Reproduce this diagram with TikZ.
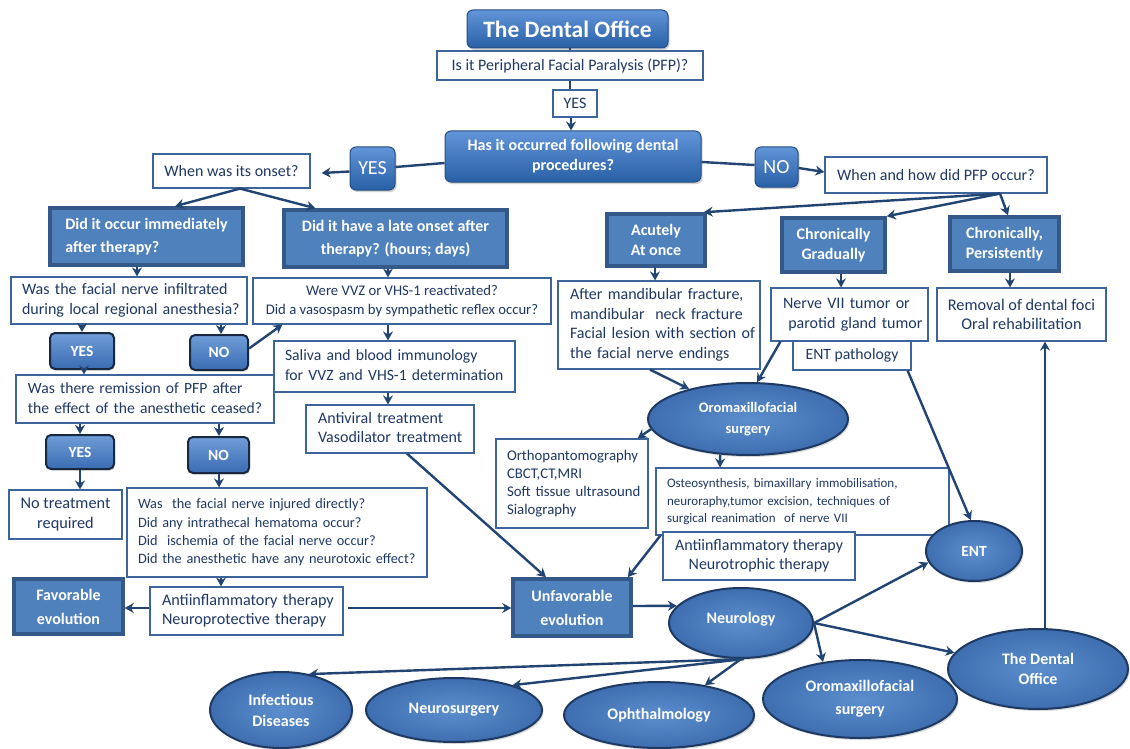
\documentclass[tikz,border=0pt]{standalone}
\usepackage{fontspec}
\setmainfont{Carlito}
\usetikzlibrary{shapes.geometric,arrows.meta,shadows}

\newcommand\fsz[2]{\fontsize{#1}{#2}\selectfont}
% left-aligned block of lines with a fixed left margin
\newcommand\leftlines[2]{\begin{tabular}{@{\hspace{#1}}l@{}}#2\end{tabular}}

\definecolor{navy}{RGB}{31,56,100}
\definecolor{wline}{RGB}{62,100,156}
\definecolor{sqfill}{RGB}{79,129,189}
\definecolor{sqline}{RGB}{52,88,135}
\definecolor{rtop}{RGB}{98,148,216}
\definecolor{rbot}{RGB}{40,96,166}
\definecolor{rline}{RGB}{38,78,130}
\definecolor{ptop}{RGB}{112,157,216}
\definecolor{pbot}{RGB}{58,108,178}
\definecolor{pline}{RGB}{25,40,65}
\definecolor{oin}{RGB}{92,142,206}
\definecolor{oout}{RGB}{62,110,175}
\definecolor{oline}{RGB}{30,58,98}
\definecolor{arrowc}{RGB}{34,68,115}

\tikzset{
  wbox/.style={draw=wline, line width=1.2pt, fill=white, text=navy,
    font=\fsz{16}{19}, inner xsep=8pt, inner ysep=0pt, align=center},
  lbox/.style={wbox, inner xsep=0pt, align=left},
  sqbox/.style={draw=sqline, line width=3.5pt, fill=sqfill, text=white,
    font=\bfseries\fsz{16}{23}, inner sep=0pt, align=center},
  rbox/.style={rounded corners=6pt, draw=rline, line width=1pt,
    top color=rtop, bottom color=rbot, text=white, inner sep=0pt,
    align=center,
    drop shadow={opacity=0.35, shadow xshift=1.5pt, shadow yshift=-2pt}},
  pill/.style={rounded corners=5pt, draw=pline, line width=2pt,
    top color=ptop, bottom color=pbot, text=white, inner sep=0pt,
    font=\bfseries\fsz{15.5}{16},
    drop shadow={opacity=0.3, shadow xshift=1pt, shadow yshift=-1.5pt}},
  oval/.style={ellipse, draw=oline, line width=2pt, inner color=oin,
    outer color=oout, text=white, inner sep=0pt, align=center,
    font=\bfseries\fsz{16}{21},
    drop shadow={opacity=0.3, shadow xshift=1.5pt, shadow yshift=-2pt}},
  link/.style={draw=arrowc, line width=2.4pt},
  arr/.style={link, -{Stealth[length=9pt,width=10pt,inset=3pt]}},
}

\begin{document}
\begin{tikzpicture}[x=1pt,y=-1pt]
\fill[white] (0,0) rectangle (1130,749);
\useasboundingbox (0,0) rectangle (1130,749);

% ---- top of the chart
\node[rbox, minimum width=201pt, minimum height=38pt, font=\bfseries\fsz{23.5}{26}] (title) at (567.5,29) {The Dental Office};
\node[wbox, minimum width=266pt, minimum height=29pt] (pfp) at (570,65.5) {Is it Peripheral Facial Paralysis (PFP)?};
\node[wbox, minimum width=44pt, minimum height=27pt] (yes1) at (575,103.5) {YES};
\node[rbox, minimum width=256pt, minimum height=51pt, font=\bfseries\fsz{16}{20}] (has) at (573,156.5) {Has it occurred following dental\\procedures?};
\node[rbox, minimum width=45pt, minimum height=43pt, font=\fsz{20}{24}] (yes2) at (372.5,168.5) {YES};
\node[rbox, minimum width=43pt, minimum height=40pt, font=\fsz{20}{24}] (no2) at (776.5,167) {NO};
\node[wbox, minimum width=157pt, minimum height=34pt] (onset) at (231.5,171) {When was its onset?};
\node[wbox, minimum width=222pt, minimum height=36pt] (how) at (936,175) {When and how did PFP occur?};

% ---- timing / course boxes
\node[sqbox, minimum width=193pt, minimum height=57pt, align=left] (immed) at (146.5,236.5) {Did it occur immediately\\after therapy?};
\node[sqbox, minimum width=223pt, minimum height=57pt] (late) at (395.5,238.5) {Did it have a late onset after\\therapy? (hours; days)};
\node[sqbox, minimum width=98pt, minimum height=52pt, font=\bfseries\fsz{16}{19.5}] (acute) at (656,240) {Acutely\\At once};
\node[sqbox, minimum width=103pt, minimum height=54pt, font=\bfseries\fsz{16}{19.5}] (grad) at (833.5,245) {Chronically\\Gradually};
\node[sqbox, minimum width=109pt, minimum height=54pt, font=\bfseries\fsz{16}{19.5}] (persist) at (1004.5,244) {Chronically,\\Persistently};

% ---- left branch
\node[lbox, text width=236pt, minimum height=47pt, font=\fsz{16}{20}] (infil) at (129,300.5) {\leftlines{11pt}{Was the facial nerve infiltrated\\during local regional anesthesia?}};
\node[pill, minimum width=64pt, minimum height=36pt] (yes3) at (82,351) {YES};
\node[pill, minimum width=58pt, minimum height=35pt] (no3) at (219,352.5) {NO};
\node[lbox, text width=258pt, minimum height=48pt, font=\fsz{15.6}{20}] (remission) at (145,399) {\leftlines{12pt}{Was there remission of PFP after\\the effect of the anesthetic ceased?}};
\node[pill, minimum width=68pt, minimum height=34pt] (yes4) at (80,452) {YES};
\node[pill, minimum width=61pt, minimum height=36pt] (no4) at (218.5,455) {NO};
\node[wbox, minimum width=113pt, minimum height=49pt, font=\fsz{16.3}{20}] (notreat) at (65.5,514.5) {No treatment\\required};
\node[lbox, text width=300pt, minimum height=89pt, font=\fsz{14.3}{18.3}] (injured) at (277,532.5) {\leftlines{11pt}{Was\ \ the facial nerve injured directly?\\Did any intrathecal hematoma occur?\\Did\ \ ischemia of the facial nerve occur?\\Did the anesthetic have any neurotoxic effect?}};
\node[sqbox, minimum width=109pt, minimum height=55pt, font=\bfseries\fsz{16}{24}] (favor) at (68.5,606.5) {Favorable\\evolution};
\node[lbox, text width=193pt, minimum height=48pt, font=\fsz{16.2}{19}] (neuroprot) at (246.5,611) {\leftlines{12pt}{Antiinflammatory therapy\\Neuroprotective therapy}};

% ---- late onset branch
\node[wbox, minimum width=298pt, minimum height=46pt, font=\fsz{14.7}{19}] (vvz) at (402,301) {Were VVZ or VHS-1 reactivated?\\Did a vasospasm by sympathetic reflex occur?};
\node[lbox, text width=241pt, minimum height=51pt, font=\fsz{15.7}{19.5}] (saliva) at (394.5,366.5) {\leftlines{11pt}{Saliva and blood immunology\\for VVZ and VHS-1 determination}};
\node[lbox, text width=168pt, minimum height=48pt, font=\fsz{16}{19}] (antiviral) at (390,429) {\leftlines{12pt}{Antiviral treatment\\Vasodilator treatment}};
\node[sqbox, minimum width=118pt, minimum height=57pt, font=\bfseries\fsz{16}{24}] (unfav) at (572,607.5) {Unfavorable\\evolution};

% ---- right branch
\node[lbox, text width=202pt, minimum height=88pt, font=\fsz{16}{19.7}] (mand) at (659,325) {\leftlines{12pt}{After mandibular fracture,\\mandibular\ \ neck fracture\\Facial lesion with section of\\the facial nerve endings}};
\node[lbox, text width=157pt, minimum height=53pt, font=\fsz{16}{19.5}] (tumor) at (849.5,314.5) {\leftlines{12pt}{Nerve VII tumor or\\\ parotid gland tumor}};
\node[wbox, minimum width=118pt, minimum height=29pt, font=\fsz{15.7}{19}] (entpath) at (852,355.5) {ENT pathology};
\node[wbox, minimum width=169pt, minimum height=53pt, font=\fsz{16.3}{19.5}] (removal) at (1021.5,314.5) {Removal of dental foci\\Oral rehabilitation};
\node[oval, minimum width=200pt, minimum height=72pt, font=\bfseries\fsz{14.5}{21}] (oromax1) at (748,419) {Oromaxillofacial\\surgery};
\node[lbox, text width=152pt, minimum height=89pt, font=\fsz{14.8}{18}] (ortho) at (572,483.5) {\leftlines{11pt}{Orthopantomography\\CBCT,CT,MRI\\Soft tissue ultrasound\\Sialography}};
\node[lbox, text width=293pt, minimum height=67pt, font=\fsz{13}{17.5}] (osteo) at (802.5,501.5) {\leftlines{11pt}{Osteosynthesis, bimaxillary immobilisation,\\neuroraphy,tumor excision, techniques of\\surgical reanimation\ \ of nerve VII}};
\node[wbox, minimum width=192pt, minimum height=48pt, font=\fsz{16}{19}] (neurotrophic) at (759,556) {Antiinflammatory therapy\\Neurotrophic therapy};
\node[oval, minimum width=96pt, minimum height=60pt, font=\bfseries\fsz{15.5}{21}] (ent) at (974,551) {ENT};

% ---- referrals
\node[oval, minimum width=144pt, minimum height=70pt] (neurology) at (741,623) {\smash{Neurology}};
\node[oval, minimum width=180pt, minimum height=80pt, font=\bfseries\fsz{16}{20}] (dental2) at (1038,669) {The Dental\\Office};
\node[oval, minimum width=142pt, minimum height=76pt] (infectious) at (281,710) {Infectious\\Diseases};
\node[oval, minimum width=176pt, minimum height=64pt] (neurosurgery) at (454,710) {Neurosurgery};
\node[oval, minimum width=190pt, minimum height=66pt] (ophthalmology) at (659,715) {Ophthalmology};
\node[oval, minimum width=194pt, minimum height=78pt, font=\bfseries\fsz{16}{23}] (oromax2) at (860,699) {Oromaxillofacial\\surgery};

% ---- connectors, top
\draw[link] ([xshift=2.5pt]title.south) -- (pfp.north);
\draw[link] (pfp.south) -- (pfp.south |- yes1.north);
\draw[arr] ([xshift=-4pt]yes1.south) -- ([xshift=-2pt]has.north);
\draw[link] ([yshift=-6.5pt]has.west) -- ([yshift=1.5pt]yes2.east);
\draw[arr] ([yshift=-3pt]yes2.west) -- ([xshift=11pt,yshift=-2pt]onset.east);
\draw[link] ([yshift=-5.5pt]has.east) -- ([yshift=2pt]no2.west);
\draw[arr] ([yshift=-1pt]no2.east) -- ([yshift=3pt]how.west);
\draw[arr] ([xshift=8.5pt]onset.south) -- ([xshift=28.5pt]immed.north);
\draw[arr] ([xshift=8.5pt]onset.south) -- ([xshift=-80pt]late.north);
\draw[arr] ([xshift=64pt]how.south) -- ([xshift=-3pt]acute.north east);
\draw[arr] ([xshift=64pt]how.south) -- (grad.north east);
\draw[arr] ([xshift=64pt]how.south) -- ([xshift=3.5pt]persist.north);

% ---- connectors, left branch
\draw[arr] ([xshift=-9.5pt]immed.south) -- ([xshift=8pt]infil.north);
\draw[arr] ([xshift=-47pt]infil.south) -- (yes3.north);
\draw[arr] ([xshift=92pt]infil.south) -- ([xshift=2pt]no3.north);
\draw[arr] ([yshift=4pt]no3.east) -- ([xshift=30pt]vvz.south west);
\draw[arr] ([xshift=2pt]yes3.south) -- ([xshift=-61pt]remission.north);
\draw[arr] ([xshift=-65pt]remission.south) -- (yes4.north);
\draw[arr] ([xshift=74pt]remission.south) -- ([xshift=0.5pt]no4.north);
\draw[arr] (yes4.south) -- ([xshift=14.5pt]notreat.north);
\draw[arr] ([xshift=0.5pt]no4.south) -- ([xshift=-58pt]injured.north);
\draw[arr] ([xshift=-56pt]injured.south) -- ([xshift=-25.5pt]neuroprot.north);
\draw[arr] ([yshift=3pt]neuroprot.west) -- ([yshift=-1.5pt]favor.east);
\draw[arr] ([xshift=4pt,yshift=3pt]neuroprot.east) -- ([yshift=-0.5pt]unfav.west);

% ---- connectors, late onset branch
\draw[arr] ([xshift=-7.5pt]late.south) -- ([xshift=-14pt]vvz.north);
\draw[arr] ([xshift=-14pt]vvz.south) -- ([xshift=-6.5pt]saliva.north);
\draw[arr] ([xshift=-6.5pt]saliva.south) -- ([xshift=-2pt]antiviral.north);
\draw[arr] ([xshift=17pt]antiviral.south) -- ([xshift=-26pt]unfav.north);

% ---- connectors, right branch
\draw[arr] ([xshift=-1pt]acute.south) -- ([xshift=-4pt]mand.north);
\draw[arr] ([xshift=7.5pt]grad.south) -- ([xshift=-8.5pt]tumor.north);
\draw[arr] ([xshift=5.5pt]persist.south) -- ([xshift=-11.5pt]removal.north);
\draw[arr] ([xshift=-9pt]mand.south) -- (oromax1.153);
\draw[arr] ([xshift=10pt]tumor.south west) -- (oromax1.76);
\draw[arr] ([xshift=-4pt]entpath.south east) -- (ent.96);
\draw[arr] (oromax1.186) -- ([xshift=-11pt]ortho.north east);
\draw[arr] (oromax1.232) -- ([xshift=-82.5pt]osteo.north);
\draw[arr] ([xshift=5pt]osteo.south west) -- ([xshift=-5pt]unfav.north east);

% ---- referrals
\draw[arr] ([yshift=1.5pt]unfav.east) -- (neurology.165);
\draw[arr] (neurology.east) -- (ent.194);
\draw[arr] (neurology.east) -- (oromax2.135);
\draw[arr] (neurology.east) -- (dental2.169);
\draw[arr] ([xshift=3pt]neurology.south) -- (infectious.52);
\draw[arr] ([xshift=3pt]neurology.south) -- (neurosurgery.23);
\draw[arr] (neurology.south) -- (ophthalmology.33);
\draw[arr] ([xshift=7pt]dental2.north) -- ([xshift=23.5pt]removal.south);
\end{tikzpicture}
\end{document}
